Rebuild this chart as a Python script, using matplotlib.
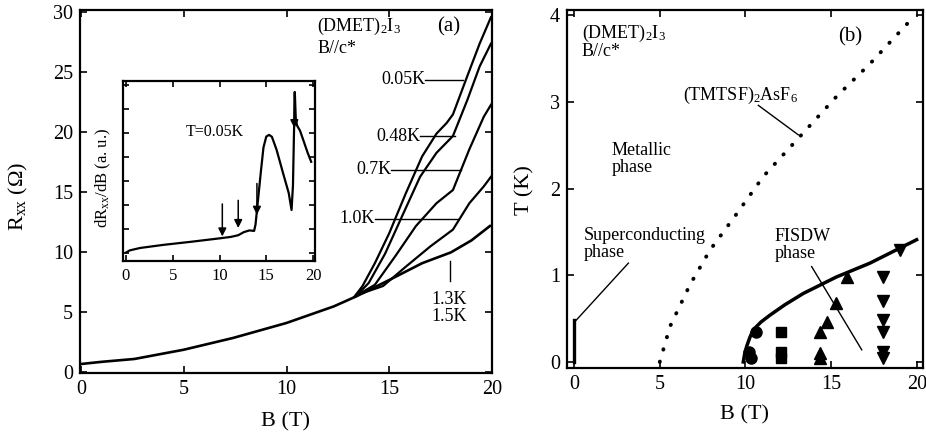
import numpy as np
import matplotlib
matplotlib.use('Agg')
import matplotlib.pyplot as plt

# fuente tipo Times para todo el grafico
plt.rcParams['font.family'] = 'Liberation Serif'
plt.rcParams['mathtext.fontset'] = 'custom'
plt.rcParams['mathtext.rm'] = 'Liberation Serif'
plt.rcParams['mathtext.it'] = 'Liberation Serif:italic'

# ---- (a) magnetorresistencia Rxx(B) ----
# curva comun (1.3K y 1.5K)
B_alta = [0, 1.0, 2.6, 5.0, 7.4, 10.0, 12.3, 13.4, 15.0, 16.6, 18.0, 19.0, 19.9]
R_alta = [0.70, 0.88, 1.12, 1.89, 2.87, 4.12, 5.50, 6.34, 7.70, 9.10, 10.0, 11.0, 12.2]

# ramas de baja temperatura
B_005 = [13.3, 13.7, 14.3, 15.0, 15.8, 16.6, 17.3, 17.8, 18.1, 18.8, 19.4, 19.95]
R_005 = [6.3, 7.2, 9.1, 11.6, 14.9, 18.0, 19.9, 20.8, 21.5, 24.7, 27.4, 29.6]
B_048 = [13.4, 14.0, 14.8, 15.7, 16.5, 17.3, 18.1, 18.8, 19.4, 19.95]
R_048 = [6.4, 7.45, 9.9, 13.3, 16.3, 18.3, 19.7, 22.7, 25.5, 27.4]
B_07 = [13.5, 14.3, 15.3, 16.3, 17.3, 18.1, 18.9, 19.6, 19.95]
R_07 = [6.5, 7.3, 9.7, 12.2, 14.1, 15.2, 18.6, 21.3, 22.3]
B_10 = [13.6, 14.7, 15.8, 17.0, 18.1, 18.9, 19.6, 19.95]
R_10 = [6.55, 7.2, 8.8, 10.5, 11.9, 14.1, 15.5, 16.3]

# etiquetas de temperatura: texto, B final del texto, B final de la linea, R
etiq_T = ['0.05K', '0.48K', '0.7K', '1.0K']
etiq_B0 = [16.75, 16.5, 15.1, 14.3]
etiq_B1 = [18.6, 18.2, 18.5, 18.35]
etiq_R = [24.4, 19.7, 16.9, 12.8]

# ---- recuadro dRxx/dB a T=0.05K ----
B_der = [0, 0.4, 1.5, 4, 7, 10, 11.2, 12.0, 12.6, 13.2, 13.7, 13.85, 14.15, 14.45, 14.7,
         15.0, 15.3, 15.6, 16.1, 16.8, 17.4, 17.7, 17.85, 17.95, 18.05, 18.15, 18.3,
         18.6, 18.96, 19.4, 19.8]
dR_der = [0.03, 0.12, 0.22, 0.35, 0.48, 0.62, 0.68, 0.75, 0.88, 0.95, 0.93, 1.2, 2.35,
          3.5, 4.4, 4.85, 4.92, 4.84, 4.3, 3.32, 2.5, 1.8, 2.8, 4.8, 6.7, 5.6, 5.3, 5.1,
          4.7, 4.2, 3.8]
flecha_B = [10.3, 12.0, 14.0, 18.0]
flecha_ini = [2.05, 2.2, 2.9, 6.7]
flecha_fin = [0.7, 1.05, 1.6, 5.2]

# ---- (b) diagrama de fases ----
B_tmtsf = [5.0, 5.6, 6.76, 7.93, 9.49, 11.04, 13.08, 15.3, 17.26, 19.8]
T_tmtsf = [0.0, 0.41, 0.89, 1.29, 1.71, 2.14, 2.58, 3.06, 3.44, 3.98]
B_fisdw = [9.87, 9.95, 10.07, 10.25, 10.45, 10.9, 11.43, 12.3, 13.37, 15.3, 17.26, 19.98]
T_fisdw = [0.0, 0.09, 0.18, 0.28, 0.37, 0.46, 0.54, 0.66, 0.79, 0.98, 1.14, 1.41]
B_circ = [10.2, 10.3, 10.6]
T_circ = [0.12, 0.04, 0.35]
B_cuad = [12.1, 12.1, 12.1]
T_cuad = [0.35, 0.12, 0.04]
B_tri_up = [14.34, 14.77, 14.34, 14.34, 15.28, 15.94]
T_tri_up = [0.35, 0.46, 0.10, 0.04, 0.68, 0.98]
B_tri_dn = [18.04, 18.04, 18.04, 18.04, 18.04, 18.04, 19.0]
T_tri_dn = [0.98, 0.70, 0.48, 0.35, 0.11, 0.04, 1.29]
T_sc = [0.0, 0.48]

fig = plt.figure(figsize=(9.26, 4.41), dpi=100)
ax1 = fig.add_axes([0.0864, 0.1542, 0.4449, 0.8231])
ax2 = fig.add_axes([0.6123, 0.1655, 0.3844, 0.8118])
axi = fig.add_axes([0.1328, 0.4082, 0.2073, 0.4082])


def estilo(ax, fs, largo=5):
    for s in ax.spines.values():
        s.set_linewidth(1.6)
    ax.tick_params(direction='in', top=True, right=True, length=largo, width=1.2,
                   labelsize=fs, pad=5)


# --- panel (a) ---
ax1.plot(B_alta, R_alta, 'k-', lw=1.9)
for B, R in [(B_005, R_005), (B_048, R_048), (B_07, R_07), (B_10, R_10)]:
    ax1.plot(B, R, 'k-', lw=1.6)
for t, b0, b1, r in zip(etiq_T, etiq_B0, etiq_B1, etiq_R):
    ax1.text(b0, r, t, ha='right', va='center', fontsize=13)
    ax1.plot([b0, b1], [r, r], 'k-', lw=1)
ax1.plot([17.95, 17.95], [7.6, 9.3], 'k-', lw=1)
ax1.text(17.9, 5.4, '1.3K\n1.5K', ha='center', va='center', fontsize=13, linespacing=1.0)
ax1.text(11.5, 28.8, r'(DMET)$_2$I$_3$', fontsize=13, va='center')
ax1.text(11.5, 27.0, 'B//c*', fontsize=13, va='center')
ax1.text(17.9, 28.8, '(a)', fontsize=15, va='center', ha='center')
ax1.set_xlim(-0.05, 20.0)
ax1.set_ylim(-0.05, 30.2)
ax1.set_xticks([0, 5, 10, 15, 20])
ax1.set_yticks([0, 5, 10, 15, 20, 25, 30])
estilo(ax1, 14.5)
ax1.set_xlabel('B (T)', fontsize=16)
ax1.set_ylabel(r'R$_{\rm xx}$ ($\Omega$)', fontsize=16)
ax1.xaxis.set_label_coords(0.5, -0.107)
ax1.yaxis.set_label_coords(-0.121, 0.485)

# --- recuadro ---
axi.plot(B_der, dR_der, 'k-', lw=1.6)
for b, y0, y1 in zip(flecha_B, flecha_ini, flecha_fin):
    axi.annotate('', xy=(b, y1), xytext=(b, y0),
                 arrowprops=dict(arrowstyle='-|>', color='k', lw=1.1,
                                 mutation_scale=12, shrinkA=0, shrinkB=0))
axi.text(9.5, 5.05, 'T=0.05K', ha='center', va='center', fontsize=11.5)
axi.set_xlim(-0.32, 20.2)
axi.set_ylim(-0.32, 7.16)
axi.set_xticks([0, 5, 10, 15, 20])
axi.set_yticks(range(8))
axi.set_yticklabels([])
estilo(axi, 12, largo=4)
axi.set_ylabel(r'dR$_{\rm xx}$/dB (a. u.)', fontsize=12)
axi.yaxis.set_label_coords(-0.052, 0.46)

# --- panel (b) ---
ax2.plot(B_tmtsf, T_tmtsf, color='k', lw=2.8, linestyle=(0, (0.1, 3.2)),
         dash_capstyle='round')
ax2.plot(B_fisdw, T_fisdw, 'k-', lw=2.5)
ax2.plot([0, 0], T_sc, 'k-', lw=2.4)
ax2.plot(B_circ, T_circ, 'ko', ms=8)
ax2.plot(B_cuad, T_cuad, 'ks', ms=7.5)
ax2.plot(B_tri_up, T_tri_up, 'k^', ms=8.5)
ax2.plot(B_tri_dn, T_tri_dn, 'kv', ms=8.5)
ax2.plot([10.75, 13.08], [2.96, 2.62], 'k-', lw=1)
ax2.plot([3.17, 0.12], [1.14, 0.48], 'k-', lw=1)
ax2.plot([13.86, 16.78], [1.10, 0.14], 'k-', lw=1)
ax2.text(0.45, 3.79, r'(DMET)$_2$I$_3$', fontsize=13, va='center')
ax2.text(0.45, 3.58, 'B//c*', fontsize=13, va='center')
ax2.text(16.1, 3.75, '(b)', fontsize=15, va='center', ha='center')
ax2.text(6.36, 3.08, r'(TMTSF)$_2$AsF$_6$', fontsize=13, va='center')
ax2.text(2.2, 2.34, 'Metallic\nphase', fontsize=13, va='center', linespacing=1.05)
ax2.text(0.54, 1.36, 'Superconducting\nphase', fontsize=13, va='center', linespacing=1.05)
ax2.text(11.7, 1.35, 'FISDW\nphase', fontsize=13, va='center', linespacing=1.05)
ax2.set_xlim(-0.41, 20.35)
ax2.set_ylim(-0.07, 4.06)
ax2.set_xticks([0, 5, 10, 15, 20])
ax2.set_yticks([0, 1, 2, 3, 4])
estilo(ax2, 14.5)
ax2.set_xlabel('B (T)', fontsize=16)
ax2.set_ylabel('T (K)', fontsize=16)
ax2.xaxis.set_label_coords(0.5, -0.103)
ax2.yaxis.set_label_coords(-0.09, 0.497)

fig.savefig('out.png', dpi=100)
